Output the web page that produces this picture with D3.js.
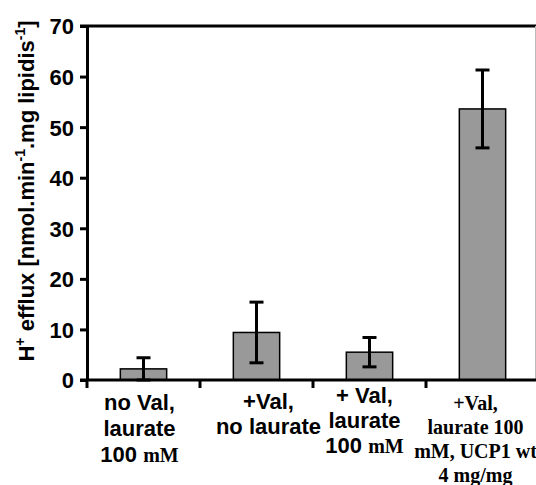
<!DOCTYPE html>
<html>
<head>
<meta charset="utf-8">
<script src="https://cdn.jsdelivr.net/npm/d3@7"></script>
<style>
  body { margin: 0; background: #fff; }
  svg { display: block; }
</style>
</head>
<body>
<svg id="chart" width="536" height="485"></svg>
<script>
// data
const categories = ["noValLaurate", "valNoLaurate", "valLaurate", "valLaurateUcp1"];
const values = [2.2, 9.4, 5.5, 53.6];
const errors = [2.2, 6.0, 2.9, 7.7];
const yTicks = [0, 10, 20, 30, 40, 50, 60, 70];
// label lines; {..} marks parts set in the serif face
const labelLines = [
  ["no Val,", "laurate", "100 {mM}"],
  ["+Val,", "no laurate"],
  ["+ Val,", "laurate", "100 {mM}"],
  ["{+Val,}", "{laurate 100}", "{mM, UCP1 wt}", "{4 mg/mg}"]
];

const sans = "'Liberation Sans', Arial, sans-serif";
const serif = "'Liberation Serif', 'Times New Roman', serif";

const svg = d3.select("#chart");

const x = d3.scaleBand()
  .domain(categories)
  .range([87, 539])
  .paddingInner(0.59)
  .paddingOuter(0.295);

const y = d3.scaleLinear().domain([0, 70]).range([380, 26]);

// top frame line + faint right edge
svg.append("line")
  .attr("x1", 80).attr("x2", 536)
  .attr("y1", y(70)).attr("y2", y(70))
  .attr("stroke", "#000").attr("stroke-width", 3);
svg.append("line")
  .attr("x1", 535.5).attr("x2", 535.5)
  .attr("y1", y(70)).attr("y2", y(0))
  .attr("stroke", "#bbb").attr("stroke-width", 1);

// bars
svg.append("g")
  .selectAll("rect")
  .data(categories)
  .enter()
  .append("rect")
  .attr("x", (d) => x(d))
  .attr("width", x.bandwidth())
  .attr("y", (d, i) => y(values[i]))
  .attr("height", (d, i) => y(0) - y(values[i]))
  .attr("fill", "#999999")
  .attr("stroke", "#000")
  .attr("stroke-width", 1.5);

// error bars
const err = svg.append("g")
  .attr("stroke", "#000")
  .attr("stroke-width", 3)
  .selectAll("g")
  .data(categories)
  .enter()
  .append("g")
  .attr("transform", (d) => `translate(${x(d) + x.bandwidth() / 2},0)`);
err.append("line")
  .attr("y1", (d, i) => y(values[i] + errors[i]))
  .attr("y2", (d, i) => y(Math.max(0, values[i] - errors[i])));
err.append("line")
  .attr("x1", -7).attr("x2", 7)
  .attr("y1", (d, i) => y(values[i] + errors[i]))
  .attr("y2", (d, i) => y(values[i] + errors[i]));
err.append("line")
  .attr("x1", -7).attr("x2", 7)
  .attr("y1", (d, i) => y(Math.max(0, values[i] - errors[i])))
  .attr("y2", (d, i) => y(Math.max(0, values[i] - errors[i])));

// y axis
const yAxis = svg.append("g")
  .attr("transform", "translate(87,0)")
  .call(d3.axisLeft(y).tickValues(yTicks).tickSize(7).tickPadding(6).tickSizeOuter(0));
yAxis.select(".domain").attr("stroke-width", 3);
yAxis.selectAll(".tick line").attr("stroke-width", 3);
yAxis.selectAll(".tick text")
  .attr("font-family", sans)
  .attr("font-weight", "bold")
  .attr("font-size", 22)
  .attr("dy", "0.36em")
  .attr("fill", "#000");

// x axis
const xTickPos = d3.range(categories.length + 1).map((i) => 87 + i * x.step());
const xAxis = svg.append("g");
xAxis.append("line")
  .attr("x1", 80).attr("x2", 540)
  .attr("y1", y(0)).attr("y2", y(0))
  .attr("stroke", "#000").attr("stroke-width", 3);
xAxis.selectAll("line.tick")
  .data(xTickPos)
  .enter()
  .append("line")
  .attr("class", "tick")
  .attr("x1", (d) => d).attr("x2", (d) => d)
  .attr("y1", y(0)).attr("y2", y(0) + 8)
  .attr("stroke", "#000").attr("stroke-width", 3);

// category labels
const labelDx = [-4, 12, -5, -7];
const labelTop = [410, 409, 403, 410];
const labelGap = [26, 25, 25, 24];
labelLines.forEach((lines, i) => {
  const cx = x(categories[i]) + x.bandwidth() / 2 + labelDx[i];
  const t = svg.append("text")
    .attr("text-anchor", "middle")
    .attr("font-weight", "bold")
    .attr("fill", "#000");
  lines.forEach((line, j) => {
    const parts = line.split(/(\{[^}]*\})/).filter((s) => s.length);
    parts.forEach((p, k) => {
      const isSerif = p.startsWith("{");
      const ts = t.append("tspan")
        .text(isSerif ? p.slice(1, -1) : p)
        .attr("font-family", isSerif ? serif : sans)
        .attr("font-size", isSerif ? 20 : 22);
      if (k === 0) ts.attr("x", cx).attr("y", labelTop[i] + j * labelGap[i]);
    });
  });
});

// y axis title
const title = svg.append("text")
  .attr("transform", "translate(34,191) rotate(-90)")
  .attr("text-anchor", "middle")
  .attr("font-family", sans)
  .attr("font-weight", "bold")
  .attr("font-size", 22)
  .attr("fill", "#000");
title.append("tspan").text("H");
title.append("tspan").text("+").attr("font-size", 14).attr("dy", -9);
title.append("tspan").text(" efflux [nmol.min").attr("dy", 9);
title.append("tspan").text("-1").attr("font-size", 14).attr("dy", -9);
title.append("tspan").text(".mg lipidis").attr("dy", 9);
title.append("tspan").text("-1").attr("font-size", 14).attr("dy", -9);
title.append("tspan").text("]").attr("dy", 9);
</script>
</body>
</html>
